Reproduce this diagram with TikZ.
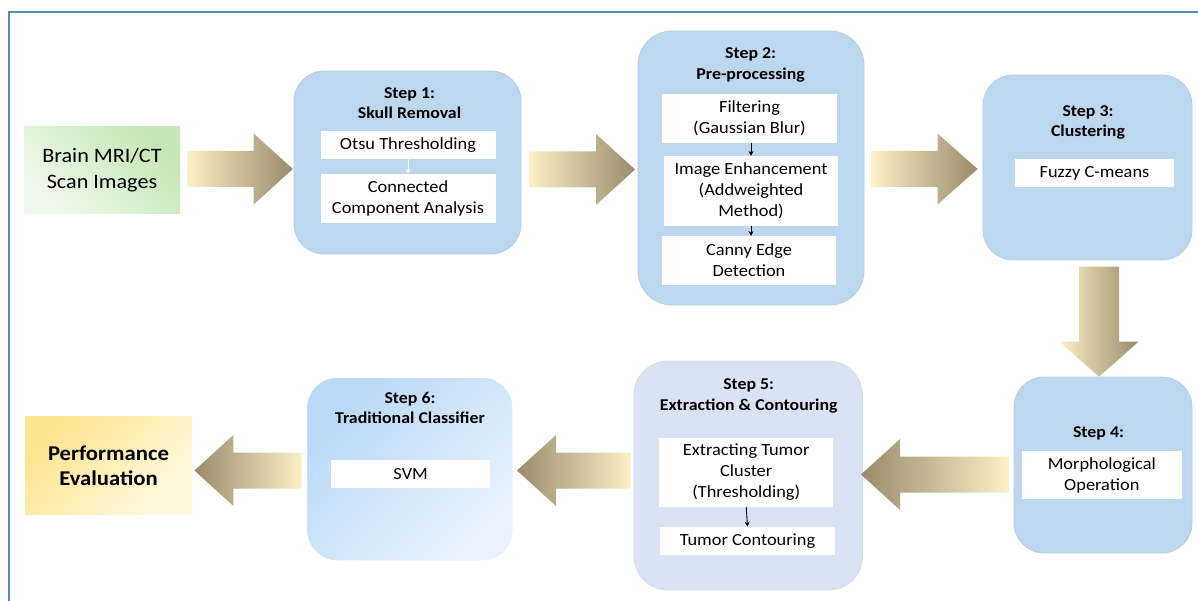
\documentclass[tikz,border=0pt]{standalone}
\usepackage{fontspec}
\setmainfont{Carlito}[FakeStretch=1.08]
\usetikzlibrary{arrows.meta}

\definecolor{stepblue}{HTML}{BDD7EE}
\definecolor{stepedge}{HTML}{B3CFEA}
\definecolor{steplav}{HTML}{DAE3F3}
\definecolor{lavedge}{HTML}{CFDBF0}
\definecolor{framecol}{HTML}{5B88BB}
\definecolor{arrowlight}{HTML}{FCF0C6}
\definecolor{arrowdark}{HTML}{978B6B}
\definecolor{greendark}{HTML}{C4E7B4}
\definecolor{greenlight}{HTML}{F0F8EC}
\definecolor{yellowdark}{HTML}{FFE48F}
\definecolor{yellowlight}{HTML}{FFF9E0}
\definecolor{skydark}{HTML}{B9D9F8}
\definecolor{skylight}{HTML}{E9F2FC}

% block arrows: tail x, head base x, tip x, centre y
\newcommand\blockright[4]{%
  \shade[left color=arrowlight, right color=arrowdark]
    (#1,#4-18) -- (#2,#4-18) -- (#2,#4-35.5) -- (#3,#4)
    -- (#2,#4+35.5) -- (#2,#4+18) -- (#1,#4+18) -- cycle;}
\newcommand\blockleft[4]{%
  \shade[left color=arrowdark, right color=arrowlight]
    (#1,#4-18) -- (#2,#4-18) -- (#2,#4-35.5) -- (#3,#4)
    -- (#2,#4+35.5) -- (#2,#4+18) -- (#1,#4+18) -- cycle;}
% downward block arrow: centre x, tail y, head base y, tip y
\newcommand\blockdown[4]{%
  \shade[left color=arrowlight, right color=arrowdark]
    (#1-20,#2) -- (#1-20,#3) -- (#1-39.5,#3) -- (#1,#4)
    -- (#1+39.5,#3) -- (#1+20,#3) -- (#1+20,#2) -- cycle;}

\tikzset{
  stepbox/.style={rectangle, rounded corners=30pt, fill=stepblue,
    draw=stepedge, line width=0.8pt, inner sep=0pt, outer sep=0pt},
  inbox/.style={rectangle, fill=white, inner sep=0pt, outer sep=0pt,
    align=center, font=\fontsize{17}{20.7}\selectfont},
  title/.style={align=center, inner sep=0pt,
    font=\fontsize{16.5}{20.6}\selectfont\bfseries},
  endbox/.style={rectangle, inner sep=0pt, outer sep=0pt, align=center},
  flow/.style={line width=0.9pt, -{Stealth[length=5pt,width=5pt]}},
}

\begin{document}
\begin{tikzpicture}[x=1pt, y=-1pt]
\useasboundingbox (0,0) rectangle (1198,601);
\fill[white] (0,0) rectangle (1198,601);

% outer frame
\draw[framecol, line width=2pt] (9,601) -- (9,12) -- (1198,12);

% input and output boxes
\node[endbox, minimum width=156pt, minimum height=87pt,
  shading=axis, top color=greendark, bottom color=greenlight, shading angle=-45,
  font=\fontsize{20.5}{26}\selectfont] (brain) at (102,170.5)
  {Brain MRI/CT\\Scan Images};
\node[endbox, minimum width=167pt, minimum height=98pt,
  shading=axis, top color=yellowdark, bottom color=yellowlight, shading angle=45,
  font=\fontsize{21}{25.7}\selectfont\bfseries] (perf) at (108.5,465.8)
  {Performance\\Evaluation};

% step 1
\node[stepbox, minimum width=227pt, minimum height=183pt] (s1) at (407.5,162.5) {};
\node[title] (t1) at (409.5,103) {Step 1:\\Skull Removal};
\node[inbox, minimum width=175pt, minimum height=28pt] (otsu) at (408,145)
  {Otsu Thresholding};
\node[inbox, minimum width=175pt, minimum height=48.7pt] (cca) at (408,198.3)
  {Connected\\Component Analysis};
\draw[flow, white!92!stepblue, line width=0.8pt] (otsu.south) -- (cca.north);

% step 2
\node[stepbox, rounded corners=34pt, minimum width=226pt, minimum height=274pt] (s2) at (751,168) {};
\node[title] (t2) at (750.6,64.7) {Step 2:\\Pre-processing};
\node[inbox, minimum width=175pt, minimum height=49.6pt] (filt) at (749.5,118.5)
  {Filtering\\(Gaussian Blur)};
\node[inbox, minimum width=174pt, minimum height=69.7pt] (enh) at (751,190.8)
  {Image Enhancement\\(Addweighted\\Method)};
\node[inbox, minimum width=174pt, minimum height=49pt] (canny) at (749,260.5)
  {Canny Edge\\Detection};
\draw[flow] (filt.south -| enh.north) -- (enh.north);
\draw[flow] (enh.south) -- (enh.south |- canny.north);

% step 3
\node[stepbox, minimum width=209pt, minimum height=185pt] (s3) at (1087.5,167.5) {};
\node[title] (t3) at (1088,122.5) {Step 3:\\Clustering};
\node[inbox, minimum width=159pt, minimum height=28.3pt] (fuzzy) at (1094.5,173.2)
  {Fuzzy C-means};

% step 4
\node[stepbox, minimum width=178pt, minimum height=176pt] (s4) at (1103,465) {};
\node[title] (t4) at (1098.5,433.7) {Step 4:};
\node[inbox, minimum width=159.6pt, minimum height=48.3pt] (morph) at (1101.8,475.2)
  {Morphological\\Operation};

% step 5
\node[stepbox, fill=steplav, draw=lavedge, rounded corners=34pt,
  minimum width=228.4pt, minimum height=229pt] (s5) at (748.2,475.5) {};
\node[title] (t5) at (748.7,396) {Step 5:\\Extraction \& Contouring};
\node[inbox, minimum width=174.4pt, minimum height=69pt] (extr) at (746.2,472.2)
  {Extracting Tumor\\Cluster\\(Thresholding)};
\node[inbox, minimum width=175pt, minimum height=28.3pt] (tcont) at (747.5,540.8)
  {Tumor Contouring};
\draw[flow] (extr.south) -- (tcont.north);

% step 6
\node[stepbox, draw=none, shading=axis, top color=skydark, bottom color=skylight,
  shading angle=45, minimum width=204.7pt, minimum height=182pt] (s6) at (409.7,469) {};
\node[title] (t6) at (410,408) {Step 6:\\Traditional Classifier};
\node[inbox, minimum width=158.6pt, minimum height=28.3pt] (svm) at (410.7,474.2)
  {SVM};

% block arrows between the stages
\blockright{187.5}{253.7}{292.8}{169}
\blockright{529}{596}{635}{169.5}
\blockright{871.5}{937.5}{977.6}{169}
\blockdown{1099}{266.7}{341.7}{376.7}
\blockleft{1009}{900}{861}{474.5}
\blockleft{630.5}{556}{517}{470.5}
\blockleft{301.6}{233.4}{194.4}{470.5}
\end{tikzpicture}
\end{document}
